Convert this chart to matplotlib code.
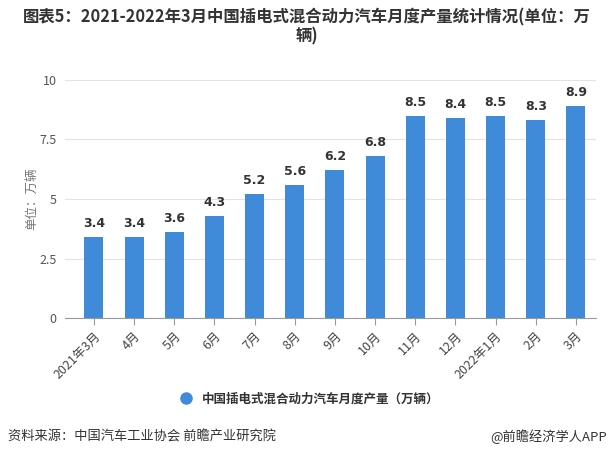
import matplotlib
matplotlib.use("Agg")
import matplotlib.pyplot as plt
from matplotlib.lines import Line2D

plt.rcParams['font.family'] = ['Noto Sans CJK SC', 'DejaVu Sans']

categories = ["2021年3月", "4月", "5月", "6月", "7月", "8月", "9月", "10月", "11月", "12月", "2022年1月", "2月", "3月"]
values = [3.4, 3.4, 3.6, 4.3, 5.2, 5.6, 6.2, 6.8, 8.5, 8.4, 8.5, 8.3, 8.9]
yticks = [0, 2.5, 5, 7.5, 10]
ytick_labels = ["0", "2.5", "5", "7.5", "10"]
series_name = "中国插电式混合动力汽车月度产量（万辆）"
title = "图表5：2021-2022年3月中国插电式混合动力汽车月度产量统计情况(单位：万\n辆)"
source = "资料来源：中国汽车工业协会 前瞻产业研究院"
credit = "@前瞻经济学人APP"

bar_color = "#3F8BDA"

fig = plt.figure(figsize=(6.13, 4.57), dpi=100)
ax = fig.add_axes([65/613, 1-318/457, (596-65)/613, (318-80)/457])

x = list(range(len(categories)))
bars = ax.bar(x, values, width=0.47, color=bar_color, zorder=3)
for xi, v in zip(x, values):
    ax.text(xi, v + 0.3, f"{v:.1f}", ha="center", va="bottom", fontsize=9,
            fontweight="bold", color="#333333", family=['DejaVu Sans'])

ax.set_xlim(-0.72, 12.5)
ax.set_ylim(0, 10)
ax.set_yticks(yticks)
ax.set_yticklabels(ytick_labels)
ax.grid(axis="y", color="#e3e3e3", linewidth=0.8, zorder=0)
for s in ["top", "right", "left"]:
    ax.spines[s].set_visible(False)
ax.spines["bottom"].set_color("#999999")
ax.spines["bottom"].set_linewidth(0.8)
ax.tick_params(axis="y", length=0, labelsize=9, labelcolor="#555555", pad=6)
ax.tick_params(axis="x", length=5, color="#999999", labelsize=9, labelcolor="#444444")
ax.set_xticks(x)
ax.set_xticklabels(categories, rotation=45, ha="right", rotation_mode="anchor")
ax.set_ylabel("单位：万辆", fontsize=9, color="#777777")
ax.yaxis.set_label_coords(-(65 - 38) / 531, 0.5)

fig.text(0.5, 1-27/457, title, ha="center", va="center", fontsize=11.8,
         fontweight="bold", color="#333333", linespacing=1.05)

handle = Line2D([], [], marker="o", linestyle="none", markersize=8,
                markerfacecolor=bar_color, markeredgecolor=bar_color)
fig.legend([handle], [series_name], loc="center", bbox_to_anchor=(0.5, 1-399/457),
           frameon=False, prop={"size": 9, "weight": "bold"}, handletextpad=0.3,
           labelcolor="#333333")

fig.text(8/613, 1-437/457, source, ha="left", va="center", fontsize=9.5, color="#333333")
fig.text(607/613, 1-437/457, credit, ha="right", va="center", fontsize=9.5, color="#333333")

fig.savefig("out.png", dpi=100)
